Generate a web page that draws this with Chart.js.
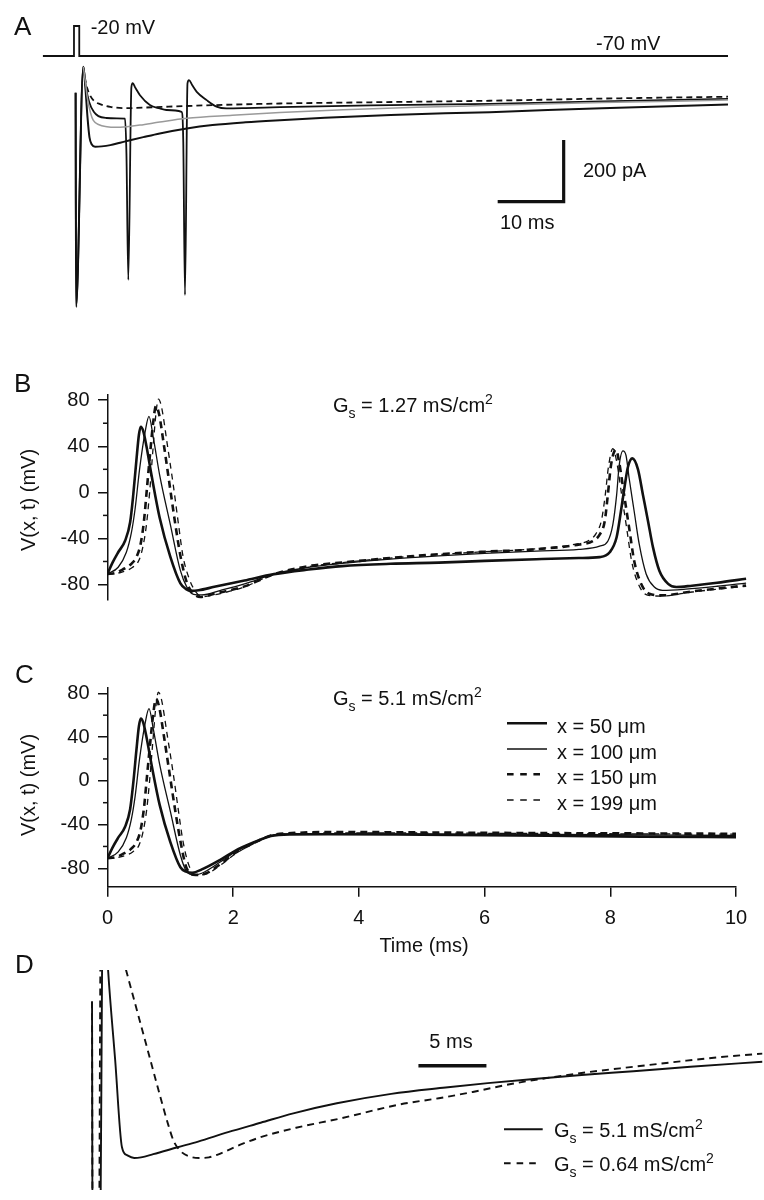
<!DOCTYPE html>
<html>
<head>
<meta charset="utf-8">
<title>Spike initiation and propagation</title>
<script src="https://cdn.jsdelivr.net/npm/chart.js@4.4.1/dist/chart.umd.min.js"></script>
<style>
  body { margin: 0; background: #fff; }
  #page { position: relative; width: 764px; height: 1200px; overflow: hidden; background: #fff;
          font-family: "Liberation Sans", Arial, sans-serif; color: #111; }
  #page canvas { position: absolute; left: 0; }
  .lbl { position: absolute; white-space: nowrap; line-height: 1; }
  .sub { font-size: 14px; position: relative; top: 6px; }
  .sup { font-size: 14px; position: relative; top: -8px; }
</style>
</head>
<body>
<div id="page">
  <canvas id="chartA" width="764" height="330" style="top:0"></canvas>
  <canvas id="chartB" width="764" height="290" style="top:330px"></canvas>
  <canvas id="chartC" width="764" height="340" style="top:620px"></canvas>
  <canvas id="chartD" width="764" height="240" style="top:960px"></canvas>
</div>
<script>
// Panel A: voltage step (mV) and evoked currents (pA) against time (ms)
const stimA = [[-4.74, -70], [0, -70], [0, -20], [0.8, -20], [0.8, -70], [99.1, -70]];
const aDip = [[0.25, 0], [0.32, -694], [1.41, 84], [1.75, 10], [2.05, -80], [2.35, -145], [2.7, -168], [3.2, -175],
  [4.2, -174], [5.5, -170], [7, -162], [8.5, -154], [10.5, -144], [13, -132], [17.1, -116], [21, -105], [26, -96],
  [31.2, -89], [38, -81], [48, -72], [63, -63], [80, -50], [99.1, -38]];
const aGray = [[1.41, 84], [1.7, 40], [2.05, -20], [2.5, -65], [2.93, -90], [3.8, -104], [5, -110], [6.2, -112],
  [8, -110], [10, -105], [13, -95], [17.1, -83], [24, -73], [31.2, -64], [40.8, -55], [52, -47], [63, -41],
  [80, -32], [99.1, -24]];
const aSpikes = [[0.25, 0], [0.32, -694], [1.41, 84], [1.8, 20], [2.3, -30], [3, -62], [3.7, -76], [4.95, -82],
  [6.5, -83], [7.73, -84], [7.95, -200], [8.23, -607], [8.7, 18], [8.9, 31], [9.3, 16], [10, -8], [11.5, -40],
  [13, -51], [14, -56], [16.3, -62], [16.56, -160], [16.82, -656], [17.2, 30], [17.42, 41], [17.9, 25], [18.6, 3],
  [20.1, -24], [21.6, -45], [23.1, -51], [26, -50], [31.2, -47], [45, -41], [63, -36], [80, -28], [99.1, -20]];
const aDashed = [[1.41, 84], [1.67, 47], [2.0, 15], [2.42, -8], [3.0, -26], [3.94, -37], [5.5, -46], [7.98, -50],
  [12, -47], [20, -41], [31.2, -35], [45, -31], [63, -26], [80, -19], [99.1, -13]];
const scaleBarA = [[64.2, -353.3], [74.2, -353.3], [74.2, -153.3]]; // 10 ms, 200 pA

// Panels B and C: V(x, t) in mV against time in ms
const tickValuesY = [-80, -40, 0, 40, 80];
const minorTickValuesY = [-60, -20, 20, 60];
const tickValuesX = [0, 2, 4, 6, 8, 10];
const legendLabels = ['x = 50 μm', 'x = 100 μm', 'x = 150 μm', 'x = 199 μm'];

// first spike is the same in B and C
const spike50 = [[0, -70.8], [0.08, -61], [0.17, -52], [0.28, -42], [0.36, -26], [0.41, -2], [0.46, 28], [0.5, 50],
  [0.53, 57], [0.57, 53], [0.62, 40], [0.7, 15], [0.83, -22], [1.0, -56], [1.16, -79]];
const spike100 = [[0, -70.8], [0.17, -65], [0.3, -52], [0.38, -35], [0.44, -14], [0.51, 20], [0.6, 53], [0.66, 66],
  [0.73, 47], [0.83, 15], [1.0, -28], [1.16, -68]];
const spike150 = [[0, -70.8], [0.12, -70], [0.24, -67], [0.38, -62], [0.47, -55], [0.53, -44], [0.58, -25], [0.63, 5],
  [0.68, 35], [0.73, 62], [0.77, 75], [0.82, 68], [0.9, 40], [1.0, 2], [1.08, -28], [1.16, -55]];
const spike199 = [[0, -70.8], [0.12, -70.5], [0.24, -69], [0.4, -65], [0.5, -59], [0.56, -48], [0.62, -28], [0.67, 0],
  [0.72, 35], [0.77, 68], [0.81, 81], [0.86, 74], [0.95, 42], [1.05, 5], [1.13, -28], [1.2, -55]];

// B: Gs = 1.27 mS/cm2, second spike near 8 ms
const b50Tail = [[1.25, -84], [1.33, -85.5], [1.45, -85], [1.7, -82], [2.18, -76.5], [2.65, -71], [3.2, -67],
  [3.73, -64], [4.5, -62], [5.27, -61], [6.0, -59.5], [6.82, -58], [7.5, -57], [7.83, -56.2], [7.99, -52],
  [8.1, -39], [8.17, -16], [8.23, 6], [8.28, 22], [8.35, 29.5], [8.44, 20], [8.52, -2.5], [8.6, -25], [8.68, -48],
  [8.78, -68], [8.92, -79.4], [9.05, -82.2], [9.3, -81], [9.7, -78.5], [10.16, -75]];
const b100Tail = [[1.26, -82], [1.37, -88.5], [1.5, -89], [1.8, -85], [2.18, -79.4], [2.65, -71], [3.2, -65],
  [3.73, -61.7], [4.5, -58], [5.27, -55.2], [6.0, -53], [6.82, -51], [7.5, -49.5], [7.83, -46.7], [7.96, -42.4],
  [8.04, -28], [8.1, -2.4], [8.14, 23], [8.2, 36], [8.25, 32], [8.3, 12], [8.38, -16.6], [8.46, -45], [8.57, -70.8],
  [8.7, -82.2], [8.83, -85], [9.2, -84], [9.7, -81.5], [10.16, -78.7]];
const b150Tail = [[1.26, -78], [1.35, -87], [1.48, -90.8], [1.7, -88], [2.18, -81.6], [2.65, -71], [3.2, -64],
  [3.73, -60.9], [4.5, -57], [5.27, -53.7], [6.0, -51.5], [6.82, -49.4], [7.51, -45.2], [7.72, -42.4], [7.83, -36.7],
  [7.91, -25.3], [7.96, -2.4], [8.01, 23.3], [8.09, 37], [8.14, 26.2], [8.22, -2.4], [8.3, -31], [8.38, -59.5],
  [8.49, -79.4], [8.62, -88], [8.83, -89.4], [9.3, -86], [9.7, -83.5], [10.16, -80.8]];
const b199Tail = [[1.3, -75], [1.4, -86], [1.5, -90.5], [1.7, -89], [2.18, -82], [2.65, -71], [3.2, -64.5],
  [3.73, -61], [4.5, -57], [5.27, -54], [6.0, -51.5], [6.82, -49], [7.45, -45], [7.65, -42], [7.77, -36],
  [7.86, -24], [7.92, -2], [7.97, 22], [8.04, 38], [8.1, 27], [8.18, -2], [8.26, -31], [8.34, -60], [8.45, -80],
  [8.58, -89], [8.8, -90], [9.3, -86.5], [9.7, -84], [10.16, -81.5]];

// C: Gs = 5.1 mS/cm2, settles near -50 mV
const c50Tail = [[1.25, -83], [1.35, -84], [1.5, -81], [1.8, -72], [2.03, -64], [2.34, -56], [2.6, -50.5],
  [2.9, -49], [3.5, -48.8], [5, -49.3], [7, -50.2], [8.5, -51], [10, -51.6]];
const c100Tail = [[1.26, -83], [1.38, -86], [1.5, -84.5], [1.8, -74], [2.03, -65], [2.34, -56], [2.6, -50],
  [2.9, -48.6], [3.5, -48.2], [5, -48.6], [7, -49], [8.5, -49.5], [10, -50]];
const c150Tail = [[1.26, -80], [1.4, -86], [1.55, -85], [1.8, -76], [2.03, -66], [2.34, -56.5], [2.6, -50],
  [3, -47.6], [3.8, -46.8], [5, -47.2], [7, -47.8], [8.5, -48.1], [10, -48.4]];
const c199Tail = [[1.3, -78], [1.42, -86], [1.55, -85.5], [1.8, -77], [2.03, -67], [2.34, -57], [2.6, -50.5],
  [3, -48], [3.8, -47.5], [5, -47.7], [7, -48.2], [8.5, -48.5], [10, -48.8]];

// Panel D: afterhyperpolarization for two values of Gs (ms, pA)
const dFast = [[0, 0], [0.04, -420], [0.6, -420], [0.75, 100], [0.9, 160], [1.18, 50], [1.7, -93], [2.2, -232],
  [2.6, -245], [3.1, -249], [3.6, -248], [4.5, -243], [6.3, -232], [7.8, -223], [10, -208], [12.4, -193],
  [14.8, -178], [18, -162], [22, -147], [26, -137], [29.1, -130], [32.7, -123], [36, -117], [39.8, -111],
  [44, -104], [49.3, -96]];
const dSlow = [[0, 0], [0.05, -420], [0.5, -420], [0.63, 100], [0.8, 170], [1.3, 140], [1.9, 98], [2.5, 50],
  [3.3, -14], [4.2, -86], [5.0, -150], [5.6, -196], [6.0, -222], [6.5, -238], [7.2, -247], [7.9, -249], [8.6, -248],
  [9.2, -244], [10.9, -228], [12.4, -216], [15, -201], [18.3, -186], [22.6, -164], [25.5, -154], [28, -144],
  [30.9, -131], [33.7, -121], [36.3, -113], [39.8, -104], [43.4, -95], [46, -89], [49.3, -83]];
const scaleBarD = [[24, -102.3], [29, -102.3]]; // 5 ms

Chart.defaults.font.family = '"Liberation Sans", Arial, sans-serif';
Chart.defaults.color = '#111';

const INK = '#111';

function trace(points, width, dash, color, extra) {
    return Object.assign({
        data: points.map(p => ({ x: p[0], y: p[1] })),
        borderColor: color || INK,
        borderWidth: width,
        borderDash: dash || [],
        pointRadius: 0,
        fill: false,
        cubicInterpolationMode: 'monotone'
    }, extra || {});
}

function straight(points, width, extra) {
    return trace(points, width, [], INK, Object.assign({ cubicInterpolationMode: 'default', tension: 0 }, extra || {}));
}

function hidden(min, max) {
    return { type: 'linear', display: false, min, max };
}

function voltageAxis(min, max) {
    return {
        type: 'linear', position: 'left', min, max,
        afterBuildTicks: s => { s.ticks = tickValuesY.map(v => ({ value: v })); },
        afterFit: s => { s.width = 107.5; },
        border: { display: true, color: INK, width: 1.5 },
        grid: { display: true, drawOnChartArea: false, drawTicks: true, tickLength: 9.5, color: INK, lineWidth: 1.5 },
        ticks: { color: INK, font: { size: 20 }, padding: 8.5 }
    };
}

// short ticks between the labelled ones on the voltage axis
const minorTicks = {
    id: 'minorTicks',
    afterDraw(chart) {
        const y = chart.scales.y, ctx = chart.ctx;
        ctx.save();
        ctx.strokeStyle = INK;
        ctx.lineWidth = 1.5;
        minorTickValuesY.forEach(v => {
            if (v < y.min || v > y.max) return;
            const py = y.getPixelForValue(v);
            ctx.beginPath();
            ctx.moveTo(y.right - 4.5, py);
            ctx.lineTo(y.right, py);
            ctx.stroke();
        });
        ctx.restore();
    }
};

// legend sample lines drawn with each dataset's own style
function keyLines(x0, rows) {
    return {
        id: 'keyLines',
        afterDraw(chart) {
            const ctx = chart.ctx;
            rows.forEach(r => {
                const ds = chart.data.datasets[r.index];
                ctx.save();
                ctx.strokeStyle = ds.borderColor;
                ctx.lineWidth = ds.borderWidth;
                ctx.setLineDash(r.dash || ds.borderDash || []);
                ctx.beginPath();
                ctx.moveTo(x0, r.y);
                ctx.lineTo(r.x1, r.y);
                ctx.stroke();
                ctx.restore();
            });
        }
    };
}

function makeChart(id, datasets, scales, padding, plugins) {
    return new Chart(document.getElementById(id), {
        type: 'line',
        data: { datasets },
        options: {
            responsive: false,
            animation: false,
            devicePixelRatio: 1,
            events: [],
            layout: { padding },
            plugins: { legend: { display: false }, tooltip: { enabled: false } },
            scales
        },
        plugins: plugins || []
    });
}

// Panel A
makeChart('chartA', [
    trace(aGray, 1.5, [], '#9a9a9a'),
    trace(aDashed, 1.8, [6, 4]),
    trace(aDip, 2.0),
    trace(aSpikes, 1.8),
    straight(stimA, 1.8, { yAxisID: 'y2' }),
    straight(scaleBarA, 3.2)
], {
    x: hidden(-4.74, 99.1),
    y: hidden(-737, 252),
    y2: hidden(-510, -1.67)
}, { left: 42.7, right: 36, top: 15, bottom: 10 });

// Panel B
makeChart('chartB', [
    trace(spike199.concat(b199Tail), 1.3, [6, 5]),
    trace(spike150.concat(b150Tail), 2.6, [7, 5]),
    trace(spike100.concat(b100Tail), 1.3),
    trace(spike50.concat(b50Tail), 2.6)
], {
    x: hidden(0, 10.2),
    y: voltageAxis(-93, 84.5)
}, { left: 0, right: 15.4, top: 65, bottom: 17 }, [minorTicks]);

// Panel C
makeChart('chartC', [
    trace(spike199.concat(c199Tail), 1.3, [6, 5]),
    trace(spike150.concat(c150Tail), 2.6, [7, 5]),
    trace(spike100.concat(c100Tail), 1.3),
    trace(spike50.concat(c50Tail), 2.6)
], {
    x: {
        type: 'linear', position: 'bottom', min: 0, max: 10,
        afterBuildTicks: s => { s.ticks = tickValuesX.map(v => ({ value: v })); },
        afterFit: s => { s.height = 73.3; },
        border: { display: true, color: INK, width: 1.5 },
        grid: { display: true, drawOnChartArea: false, drawTicks: true, tickLength: 10, color: INK, lineWidth: 1.5 },
        ticks: { color: INK, font: { size: 20 }, padding: 10, maxRotation: 0 }
    },
    y: voltageAxis(-96.8, 85.5)
}, { left: 0, right: 28, top: 67.3, bottom: 0 }, [minorTicks, keyLines(507, [
    { index: 3, y: 103.3, x1: 547 },
    { index: 2, y: 129, x1: 547 },
    { index: 1, y: 154.3, x1: 540, dash: [6.6, 6.6] },
    { index: 0, y: 180, x1: 540, dash: [6.6, 6.6] }
])]);

// Panel D
makeChart('chartD', [
    trace(dFast, 1.9),
    trace(dSlow, 1.9, [7, 5]),
    straight(scaleBarD, 3.5)
], {
    x: hidden(-0.9, 49.3),
    y: hidden(-300, 50)
}, { left: 79.8, right: 1.5, top: 10, bottom: 10 }, [keyLines(504, [
    { index: 0, y: 169.3, x1: 542.7 },
    { index: 1, y: 203.3, x1: 537, dash: [6.6, 6] }
])]);

// text labels: [html, x, baseline, font size, alignment]
const gs = v => 'G<span class="sub">s</span> = ' + v + ' mS/cm<span class="sup">2</span>';
const textLabels = [
    ['A', 14, 35, 26], ['-20 mV', 90.7, 34.3, 20], ['-70 mV', 596, 50, 20],
    ['200 pA', 583, 176.7, 20], ['10 ms', 500, 229, 20],
    ['B', 14, 391.7, 26], [gs('1.27'), 333, 411.7, 20],
    ['C', 15, 683.3, 26], [gs('5.1'), 333, 705, 20],
    [legendLabels[0], 557, 733.3, 20], [legendLabels[1], 557, 759, 20],
    [legendLabels[2], 557, 784.3, 20], [legendLabels[3], 557, 810, 20],
    ['Time (ms)', 424, 951.7, 20, 'center'],
    ['D', 15, 973, 26], ['5 ms', 429.3, 1048.3, 20],
    [gs('5.1'), 554, 1136.7, 20], [gs('0.64'), 554, 1170.7, 20]
];
const page = document.getElementById('page');
textLabels.forEach(([html, x, base, size, align]) => {
    const el = document.createElement('div');
    el.className = 'lbl';
    el.innerHTML = html;
    el.style.fontSize = size + 'px';
    el.style.left = x + 'px';
    el.style.top = (base - 0.8465 * size) + 'px';
    if (align === 'center') el.style.transform = 'translateX(-50%)';
    page.appendChild(el);
});

// rotated axis titles of B and C
[500, 785].forEach(cy => {
    const el = document.createElement('div');
    el.className = 'lbl';
    el.textContent = 'V(x, t) (mV)';
    el.style.fontSize = '20px';
    el.style.left = '27.5px';
    el.style.top = cy + 'px';
    el.style.transform = 'translate(-50%, -50%) rotate(-90deg)';
    page.appendChild(el);
});
</script>
</body>
</html>
